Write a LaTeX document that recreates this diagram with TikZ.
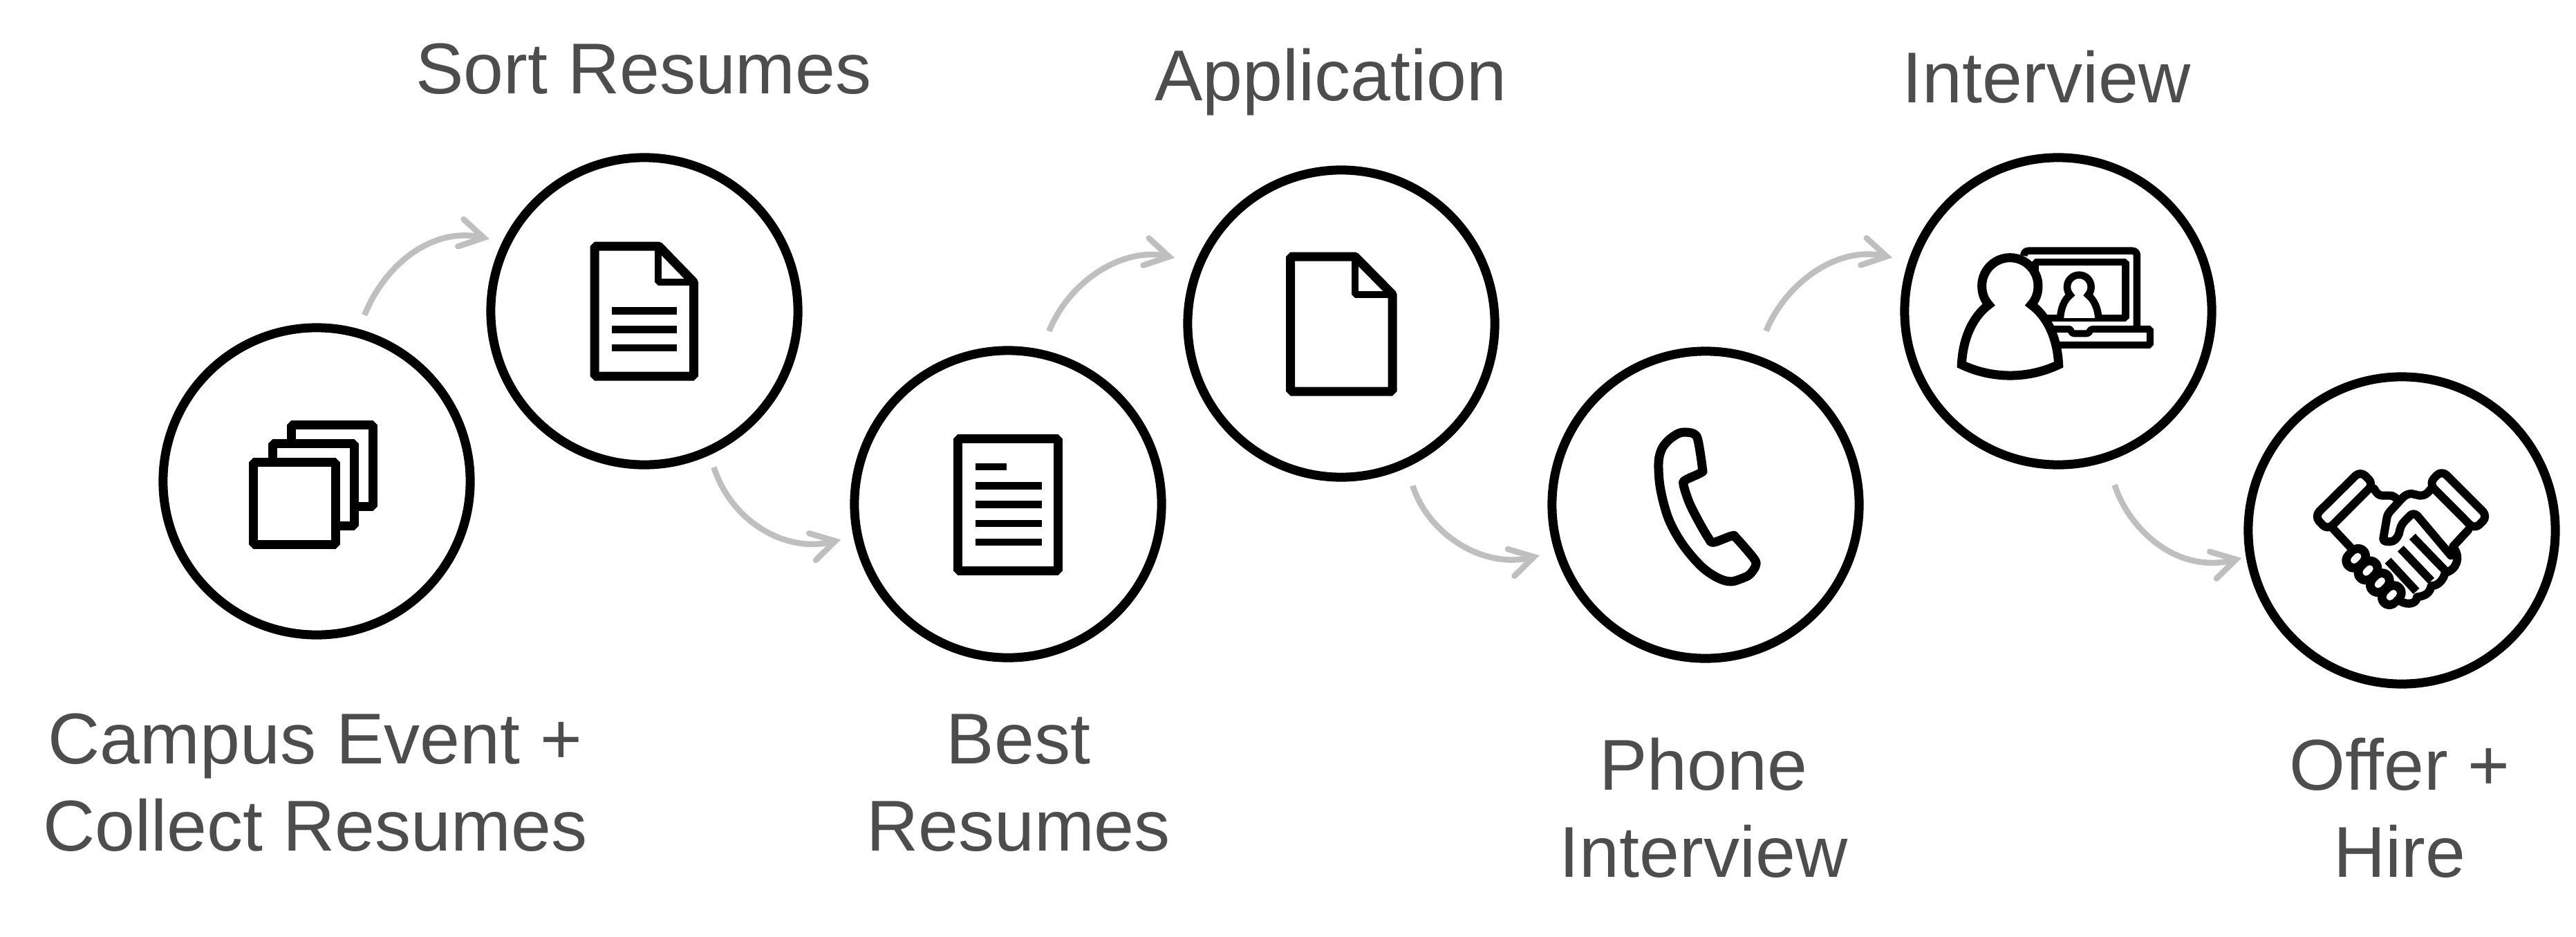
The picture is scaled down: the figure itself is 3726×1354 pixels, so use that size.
\documentclass[tikz,border=0pt]{standalone}
\usepackage{fontspec}
\setmainfont{Liberation Sans}
\usetikzlibrary{arrows.meta}

\definecolor{flowgray}{HTML}{BFBFBF}
\definecolor{textgray}{HTML}{4D4D4D}

\tikzset{
    stepcircle/.style={
        circle,
        draw=black,
        line width=.13cm,
        minimum size=4.44cm,
        inner sep=0pt,
        outer sep=.25cm},
    caption/.style={
        align=center,
        text=textgray,
        inner sep=0pt,
        font=\fontsize{29.6}{35.85}\selectfont},
    flow/.style={
        draw=flowgray,
        line width=.085cm,
        -{Straight Barb[length=.34cm,width=.4cm,line cap=round,line join=miter]}},
    icon/.style={
        draw=black,
        fill=white,
        line width=.13cm,
        line join=bevel},
    bar/.style={
        draw=black,
        line width=.105cm},
    shake/.style={
        draw=black,
        line width=.12cm,
        line cap=round,
        line join=round}
}

\begin{document}
\begin{tikzpicture}[x=.01cm,y=-.01cm]
    \useasboundingbox (0,0) rectangle (3726,1354);

    % circles
    \node[stepcircle] (campus) at (458,696) {};
    \node[stepcircle] (sort) at (932,450) {};
    \node[stepcircle] (best) at (1458,729) {};
    \node[stepcircle] (application) at (1940,468) {};
    \node[stepcircle] (phone) at (2467,730) {};
    \node[stepcircle] (interview) at (2977,450) {};
    \node[stepcircle] (offer) at (3474,767) {};

    % texts
    \node[caption, anchor=base] (sorttext) at (931,135) {Sort Resumes};
    \node[caption, anchor=base] (applicationtext) at (1925,145) {Application};
    \node[caption, anchor=base] (interviewtext) at (2960,148) {Interview};
    \node[caption] (campustext) at (456,1132) {Campus Event +\\Collect Resumes};
    \node[caption] (besttext) at (1473,1132) {Best\\Resumes};
    \node[caption] (phonetext) at (2464,1168) {Phone\\Interview};
    \node[caption] (offertext) at (3471,1168) {Offer +\\Hire};

    % arrows
    \draw[flow, shorten <=.03cm] (campus.74.7) to[out=68, in=168] (sort.155.7);
    \draw[flow] (sort.-66) to[out=-72, in=194] (best.192.6);
    \draw[flow, shorten <=.1cm, shorten >=.12cm] (best.77.4) to[out=68, in=168] (application.158.5);
    \draw[flow, shorten <=.09cm, shorten >=.04cm] (application.-66.2) to[out=-72, in=194] (phone.197.9);
    \draw[flow, shorten <=.19cm, shorten >=.05cm] (phone.71.4) to[out=68, in=168] (interview.162.2);
    \draw[flow, shorten <=.17cm, shorten >=-.12cm] (interview.-72.4) to[out=-72, in=194] (offer.190);

    % stacked sheets
    \draw[icon] (421.5,614) rectangle (539.5,732.5);
    \draw[icon] (394,641.5) rectangle (512,760);
    \draw[icon] (366.5,668.5) rectangle (485,787.5);

    % sheet with fold and three lines
    \draw[icon] (860,356) -- (953,356) -- (1003.5,408) -- (1003.5,544) -- (860,544) -- cycle;
    \draw[icon, fill=none, line width=.1cm] (951.7,356) -- (951.7,408) -- (1003.5,408);
    \draw[bar] (885,449.3) -- (979.3,449.3);
    \draw[bar] (885,476.3) -- (979.3,476.3);
    \draw[bar] (885,503) -- (979.3,503);

    % sheet with text
    \draw[icon] (1385.7,634) rectangle (1530.7,825);
    \draw[bar] (1411,674.9) -- (1456.4,674.9);
    \draw[bar] (1411,702.5) -- (1506.6,702.5);
    \draw[bar] (1411,729.7) -- (1506.6,729.7);
    \draw[bar] (1411,756.9) -- (1506.6,756.9);
    \draw[bar] (1411,784) -- (1506.6,784);

    % blank sheet with fold
    \draw[icon] (1866.5,371) -- (1960,371) -- (2014,425.6) -- (2014,566) -- (1866.5,566) -- cycle;
    \draw[icon, fill=none, line width=.1cm] (1960,371) -- (1960,425.6) -- (2014,425.6);

    % phone
    \begin{scope}[shift={(2230,490)},scale=0.3333]
        \draw[icon, line join=round]
            plot[smooth cycle, tension=.55] coordinates {
                (620,405) (660,412) (678,440) (697,560) (692,580) (625,612)
                (615,632) (640,710) (680,790) (722,862) (745,883) (825,855)
                (845,865) (922,955) (928,985) (905,1020) (880,1035) (820,1053)
                (760,1035) (690,985) (610,890) (550,780) (515,650) (507,540)
                (520,480) (550,440) (590,412)};
    \end{scope}

    % person in front of laptop
    \begin{scope}[shift={(2700,200)},scale=0.3333]
        \draw[icon, fill=none, line width=.105cm]
            (682,510) .. controls (682,495) and (690,488) .. (705,488) -- (1150,488)
            .. controls (1165,488) and (1173,495) .. (1173,510) -- (1173,828);
        \draw[icon, fill=none, line width=.105cm]
            (732,600) -- (732,537) -- (1124,537) -- (1124,780) -- (770,780);
        \draw[icon, fill=none, line width=.1cm]
            (810,828) -- (880,828) .. controls (888,828) and (885,847) .. (900,847)
            -- (955,847) .. controls (970,847) and (965,828) .. (980,828)
            -- (1230,828) -- (1230,897) -- (815,897);
        \draw[icon, line width=.105cm, line join=miter]
            (840,780) .. controls (843,735) and (858,700) .. (883,680)
            .. controls (876,672) and (870,660) .. (870,645)
            .. controls (870,616) and (893,593) .. (922,593)
            .. controls (951,593) and (974,616) .. (974,645)
            .. controls (974,660) and (968,672) .. (961,680)
            .. controls (986,700) and (1003,735) .. (1006,780);
        \draw[icon, line join=miter]
            (412,982) .. controls (418,860) and (465,770) .. (530,722)
            .. controls (510,700) and (500,672) .. (500,640)
            .. controls (500,573) and (555,518) .. (622,518)
            .. controls (689,518) and (744,573) .. (744,640)
            .. controls (744,672) and (734,700) .. (714,722)
            .. controls (780,770) and (827,860) .. (833,982)
            .. controls (700,1045) and (545,1045) .. (412,982) -- cycle;
    \end{scope}

    % handshake
    \begin{scope}[shift={(3230,520)},scale=0.3333]
        \draw[shake, rounded corners=.1cm] (552,483) -- (610,540) -- (410,740) -- (353,680) -- cycle;
        \draw[shake, rounded corners=.1cm] (905,480) -- (850,538) -- (1048,737) -- (1105,680) -- cycle;
        \draw[shake] (435,735) -- (510,815);
        \draw[shake] (612,560) .. controls (625,585) and (635,590) .. (650,590) -- (680,590)
            .. controls (695,590) and (705,598) .. (715,610);
        \draw[shake] (855,565) .. controls (840,585) and (830,590) .. (810,590) -- (775,582)
            .. controls (755,582) and (745,590) .. (730,605) -- (680,660)
            .. controls (670,672) and (668,680) .. (665,700) -- (652,775)
            .. controls (650,788) and (660,790) .. (680,790)
            .. controls (700,790) and (712,775) .. (720,755)
            .. controls (725,730) and (730,715) .. (745,700) -- (770,675)
            .. controls (778,668) and (790,668) .. (800,678) -- (945,850);
        \draw[shake] (1020,740) -- (955,810);
        \draw[shake] (955,815) .. controls (990,855) and (972,912) .. (920,925)
            .. controls (913,957) and (888,982) .. (860,982)
            .. controls (853,1017) and (828,1027) .. (798,1030)
            .. controls (798,1058) and (760,1068) .. (725,1048);
        \draw[shake, line cap=butt] (778,768) -- (920,915);
        \draw[shake, line cap=butt] (727,820) -- (860,960);
        \draw[shake, line cap=butt] (672,872) -- (795,1005);
        \draw[draw=black, line width=.34cm, line cap=round]
            (523,872) -- (543,852) (575,925) -- (595,905)
            (627,978) -- (647,958) (678,1032) -- (698,1012);
        \draw[draw=white, line width=.1cm, line cap=round]
            (525,870) -- (541,854) (577,923) -- (593,907)
            (629,976) -- (645,960) (680,1030) -- (696,1014);
    \end{scope}
\end{tikzpicture}
\end{document}
